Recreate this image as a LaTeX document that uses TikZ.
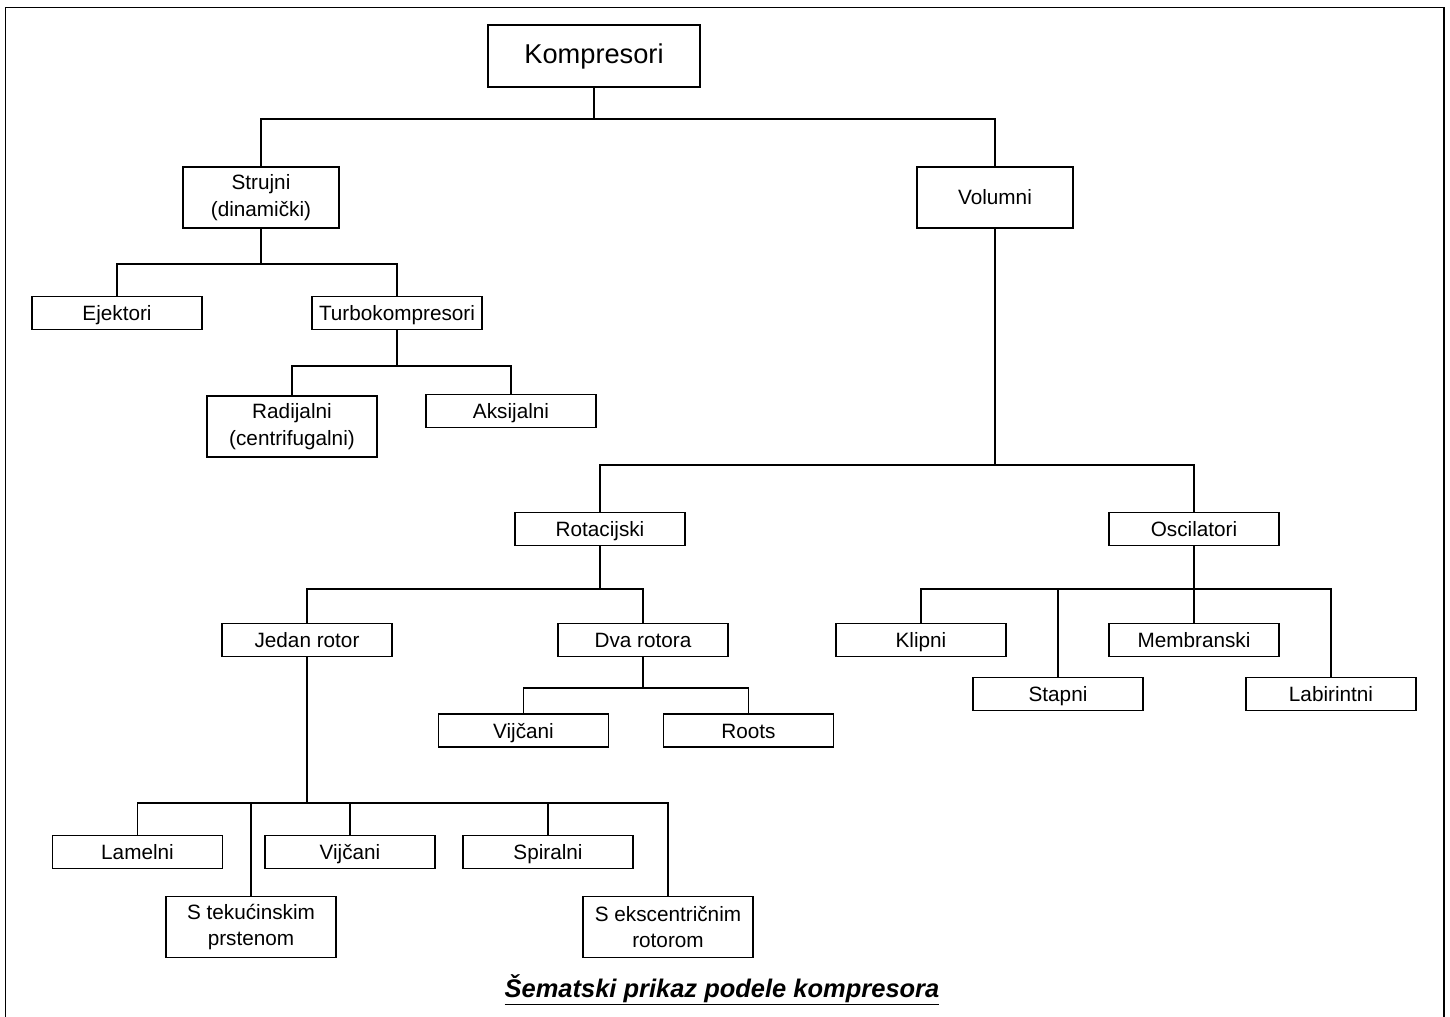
\documentclass[tikz,border=0pt]{standalone}
\usepackage{fontspec}
\setmainfont{Liberation Sans}
\tikzstyle{base} = [rectangle, draw=black, line width=0.8pt, text centered, align=center,
 inner sep=2pt, font=\fontsize{11.8}{15}\selectfont]
\tikzstyle{leaf} = [base, minimum width=3.4cm, minimum height=0.66cm, text height=0.95em, text depth=0.05em]
\tikzstyle{tall} = [base, minimum width=3.4cm, minimum height=1.22cm]
\tikzstyle{group} = [base, minimum width=3.12cm, minimum height=1.22cm]
\tikzstyle{line} = [line width=0.6pt]

\begin{document}
\begin{tikzpicture}[x=0.02cm, y=-0.02cm]
\useasboundingbox (0,0) rectangle (1450,1017);

% Frame
\draw[line width=1.1pt] (5.5,1017) -- (5.5,7.5) -- (1444,7.5) -- (1444,1017);

\node (KOMP) [base, minimum width=4.24cm, minimum height=1.24cm,
    font=\fontsize{15.5}{18}\selectfont] at (594,56) {Kompresori};

\node (STRUJNI) [group] at (261,197.5) {Strujni\\(dinamički)};
\node (VOLUMNI) [group] at (995,197.5) {Volumni};

\node (EJEKTORI) [leaf] at (117,313) {Ejektori};
\node (TURBO) [leaf] at (397,313) {Turbokompresori};
\node (RADIJALNI) [tall] at (292,426.5) {Radijalni\\(centrifugalni)};
\node (AKSIJALNI) [leaf] at (511,411) {Aksijalni};

\node (ROTACIJSKI) [leaf] at (600,529) {Rotacijski};
\node (OSCILATORI) [leaf] at (1194,529) {Oscilatori};

\node (JEDAN) [leaf] at (307,640) {Jedan rotor};
\node (DVA) [leaf] at (643,640) {Dva rotora};
\node (VIJCANI_DVA) [leaf] at (523.5,730.5) {Vijčani};
\node (ROOTS) [leaf] at (748.5,730.5) {Roots};

\node (KLIPNI) [leaf] at (921,640) {Klipni};
\node (MEMBRANSKI) [leaf] at (1194,640) {Membranski};
\node (STAPNI) [leaf] at (1058,694) {Stapni};
\node (LABIRINTNI) [leaf] at (1331,694) {Labirintni};

\node (LAMELNI) [leaf] at (137.5,852) {Lamelni};
\node (VIJCANI) [leaf] at (350,852) {Vijčani};
\node (SPIRALNI) [leaf] at (548,852) {Spiralni};
\node (TEKUCINSKI) [tall] at (251,927) {S tekućinskim\\prstenom};
\node (EKSCENTRICNI) [tall] at (668,927) {S ekscentričnim\\rotorom};

\node (CAPTION) [anchor=base, font=\fontsize{14.5}{17}\selectfont\bfseries\itshape]
    at (722,997) {\underline{Šematski prikaz podele kompresora}};

% Connectors
\coordinate (B0) at (KOMP.south |- 0,119);
\draw[line] (KOMP) -- (B0);
\draw[line] (STRUJNI.north) |- (B0) -| (VOLUMNI.north);

\coordinate (B1) at (STRUJNI.south |- 0,264);
\draw[line] (STRUJNI) -- (B1);
\draw[line] (EJEKTORI.north) |- (B1) -| (TURBO.north);

\coordinate (B2) at (TURBO.south |- 0,366);
\draw[line] (TURBO) -- (B2);
\draw[line] (RADIJALNI.north) |- (B2) -| (AKSIJALNI.north);

\coordinate (B3) at (VOLUMNI.south |- 0,465);
\draw[line] (VOLUMNI) -- (B3);
\draw[line] (ROTACIJSKI.north) |- (B3) -| (OSCILATORI.north);

\coordinate (B4) at (ROTACIJSKI.south |- 0,589);
\draw[line] (ROTACIJSKI) -- (B4);
\draw[line] (JEDAN.north) |- (B4) -| (DVA.north);

\coordinate (B5) at (DVA.south |- 0,688);
\draw[line] (DVA) -- (B5);
\draw[line] (VIJCANI_DVA.north) |- (B5) -| (ROOTS.north);

\coordinate (B6) at (OSCILATORI.south |- 0,589);
\draw[line] (OSCILATORI) -- (MEMBRANSKI);
\draw[line] (KLIPNI.north) |- (B6) -| (LABIRINTNI.north);
\draw[line] (STAPNI.north) -- (STAPNI.north |- B6);

\coordinate (B7) at (JEDAN.south |- 0,803);
\draw[line] (JEDAN) -- (B7);
\draw[line] (LAMELNI.north) |- (B7) -| (EKSCENTRICNI.north);
\draw[line] (TEKUCINSKI.north) -- (TEKUCINSKI.north |- B7);
\draw[line] (VIJCANI.north) -- (VIJCANI.north |- B7);
\draw[line] (SPIRALNI.north) -- (SPIRALNI.north |- B7);

\end{tikzpicture}
\end{document}
